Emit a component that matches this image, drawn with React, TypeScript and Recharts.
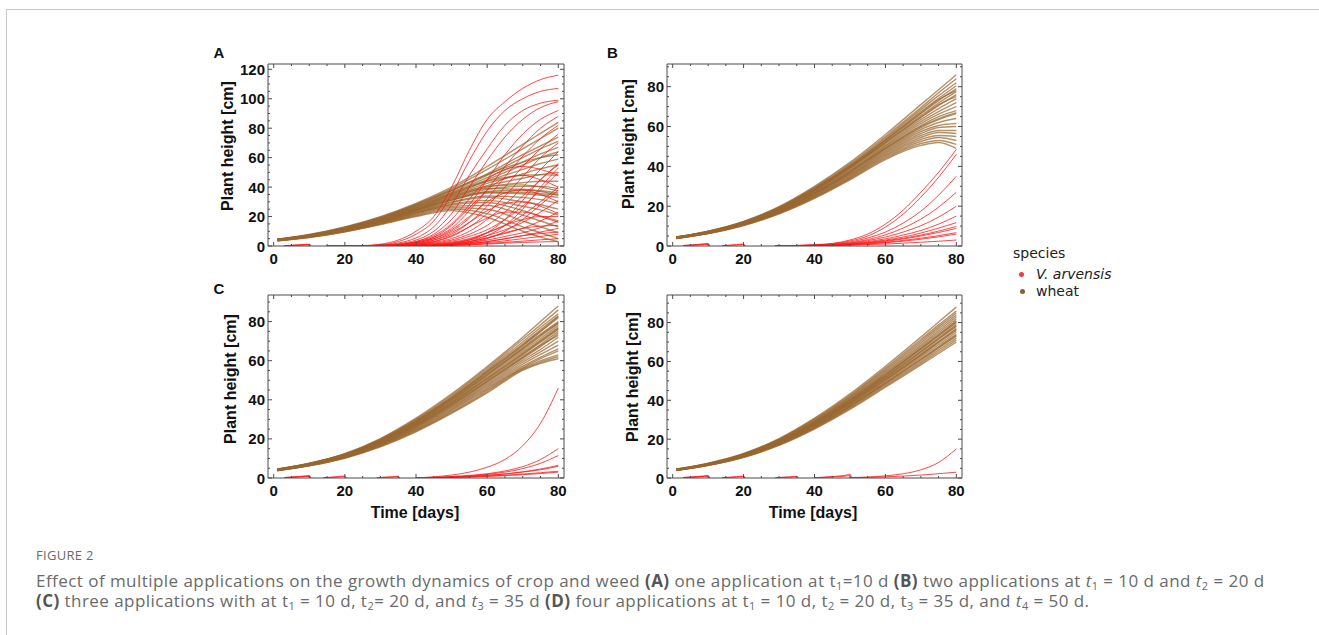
import React from 'react';
import { LineChart, Line, XAxis, YAxis } from 'recharts';

// sample days for the wheat curves
const days = [1, 10, 20, 30, 40, 50, 60, 70, 75, 80];

const wheatA = [
  [4.6, 7.8, 13, 20, 29, 40, 54, 69, 76.5, 84],
  [4.5, 7.6, 12.7, 19.6, 28.5, 39, 52, 66, 73, 80],
  [4.4, 7.5, 12.5, 19.2, 28, 38, 49, 62, 68, 74],
  [4.4, 7.4, 12.3, 19, 27.5, 37.5, 48, 60, 66, 71],
  [4.3, 7.3, 12.1, 18.6, 27, 36.5, 46.5, 57, 62.5, 67],
  [4.3, 7.2, 12, 18.4, 26.5, 36, 45, 55, 60, 64],
  [4.2, 7.1, 11.8, 18.1, 26, 35, 44, 52, 56, 59],
  [4.2, 7, 11.6, 17.8, 25.5, 34.5, 42.5, 49, 52.5, 55],
  [4.1, 6.9, 11.4, 17.5, 25, 33.5, 41, 46, 48.5, 50],
  [4.1, 6.8, 11.3, 17.3, 24.8, 33, 40, 43, 44, 44],
  [4, 6.7, 11.1, 17, 24.3, 32, 38.5, 40.5, 40.5, 39],
  [4, 6.6, 10.9, 16.7, 24, 31.5, 37, 38, 37.5, 36],
  [3.9, 6.5, 10.8, 16.5, 23.5, 31, 36, 35.5, 34.5, 33],
  [3.9, 6.5, 10.6, 16.2, 23, 30, 34, 33, 31.5, 29],
  [3.8, 6.4, 10.5, 16, 22.7, 29.5, 33, 30, 28, 25],
  [3.8, 6.3, 10.3, 15.7, 22.3, 28.5, 31, 27, 24.5, 21],
  [3.7, 6.2, 10.2, 15.4, 22, 28, 29.5, 24, 20.5, 17],
  [3.7, 6.1, 10, 15.2, 21.5, 27, 27.5, 21, 17, 13],
  [3.6, 6, 9.9, 15, 21, 26, 25, 17, 13, 9],
  [3.6, 5.9, 9.7, 14.7, 20.5, 25, 22, 13, 9, 5],
  [3.5, 5.8, 9.6, 14.5, 20, 24, 19.5, 10, 6, 3],
  [4.4, 7.4, 12.4, 19, 27.8, 38, 48.5, 57, 60, 62],
  [4.2, 7.1, 11.9, 18.2, 26.3, 35.5, 44, 48, 48.5, 48],
  [4, 6.8, 11.2, 17.1, 24.6, 32.5, 39, 38.5, 37, 34.5],
  [4.1, 6.9, 11.5, 17.6, 25.3, 34, 40.5, 41.5, 40, 37.5],
  [3.9, 6.6, 10.8, 16.6, 23.8, 31.2, 36.5, 36.5, 35.5, 35],
];

const wheatB = [
  [4.6, 7.5, 12.4, 19.8, 30, 42, 56, 71, 78.5, 86],
  [4.5, 7.4, 12.2, 19.5, 29.5, 41.3, 55, 69.5, 77, 84],
  [4.5, 7.3, 12.1, 19.3, 29.2, 40.8, 54.3, 68.5, 75.5, 82],
  [4.4, 7.2, 12, 19.1, 28.9, 40.3, 53.6, 67.5, 74.2, 80.5],
  [4.4, 7.2, 11.9, 18.9, 28.6, 40, 53, 66.5, 73, 79],
  [4.3, 7.1, 11.8, 18.8, 28.3, 39.6, 52.4, 65.5, 71.8, 77.5],
  [4.3, 7, 11.7, 18.6, 28, 39.2, 51.8, 64.5, 70.5, 76],
  [4.2, 7, 11.6, 18.4, 27.7, 38.8, 51.2, 63.5, 69, 74],
  [4.2, 6.9, 11.5, 18.2, 27.4, 38.3, 50.5, 62.5, 67.5, 72],
  [4.2, 6.9, 11.4, 18, 27.1, 37.9, 50, 61.5, 66.2, 70],
  [4.1, 6.8, 11.3, 17.9, 26.8, 37.5, 49.4, 60.5, 65, 68],
  [4.1, 6.7, 11.2, 17.7, 26.5, 37, 48.8, 59.5, 63.5, 66.5],
  [4.1, 6.7, 11.1, 17.5, 26.2, 36.6, 48.2, 58.5, 62, 64],
  [4, 6.6, 11, 17.4, 26, 36.2, 47.6, 57.5, 60.5, 61.5],
  [4, 6.6, 10.9, 17.2, 25.7, 35.8, 47, 56.5, 59.5, 60],
  [4, 6.5, 10.8, 17, 25.4, 35.4, 46.4, 55.5, 58, 58],
  [3.9, 6.5, 10.7, 16.8, 25.1, 35, 45.8, 54.5, 57, 56.5],
  [3.9, 6.4, 10.6, 16.7, 24.8, 34.5, 45.2, 53.5, 55.5, 55],
  [3.8, 6.4, 10.5, 16.5, 24.5, 34.1, 44.6, 52.5, 54.5, 53],
  [3.8, 6.3, 10.4, 16.3, 24.2, 33.7, 44, 51.5, 53, 51],
  [3.7, 6.2, 10.3, 16.1, 23.9, 33.2, 43.4, 50.5, 52, 49],
  [4.4, 7.2, 11.9, 19, 28.7, 40.1, 53.2, 66.8, 73.5, 78],
  [4.3, 7.1, 11.7, 18.7, 28.1, 39.4, 52, 64.8, 71, 75],
  [4.1, 6.8, 11.2, 17.8, 26.6, 37.2, 49, 60, 64, 67],
];

const wheatC = [
  [4.6, 7.6, 12.5, 20.2, 30.6, 43, 57, 72, 80, 88],
  [4.5, 7.5, 12.3, 19.9, 30.1, 42.3, 56.2, 70.8, 78.3, 86],
  [4.5, 7.4, 12.2, 19.6, 29.7, 41.7, 55.4, 69.6, 77, 84],
  [4.4, 7.3, 12.1, 19.4, 29.3, 41.2, 54.7, 68.5, 75.8, 83],
  [4.4, 7.3, 12, 19.2, 29, 40.7, 54, 67.6, 74.8, 82],
  [4.3, 7.2, 11.9, 19, 28.6, 40.2, 53.3, 66.7, 73.6, 80],
  [4.3, 7.1, 11.7, 18.8, 28.3, 39.7, 52.6, 65.8, 72.5, 79],
  [4.2, 7, 11.6, 18.6, 27.9, 39.2, 51.9, 64.9, 71.5, 78],
  [4.2, 7, 11.5, 18.4, 27.6, 38.7, 51.2, 64, 70.5, 77],
  [4.2, 6.9, 11.4, 18.2, 27.2, 38.2, 50.5, 63, 69.5, 76],
  [4.1, 6.8, 11.3, 18, 26.9, 37.7, 49.8, 62.1, 68.3, 75],
  [4.1, 6.8, 11.1, 17.7, 26.5, 37.2, 49.1, 61.2, 67.2, 74],
  [4.1, 6.7, 11, 17.5, 26.2, 36.7, 48.4, 60.2, 65.8, 72],
  [4, 6.6, 10.9, 17.3, 25.8, 36.2, 47.7, 59.2, 64.5, 70],
  [4, 6.6, 10.8, 17.1, 25.5, 35.7, 47, 58.2, 63.2, 68],
  [3.9, 6.5, 10.6, 16.8, 25.1, 35.1, 46.3, 57.2, 61.8, 66],
  [3.9, 6.4, 10.5, 16.6, 24.7, 34.6, 45.6, 56.5, 61, 65],
  [3.8, 6.4, 10.4, 16.4, 24.3, 34, 44.9, 56, 60, 63],
  [3.8, 6.3, 10.3, 16.2, 24, 33.5, 44.2, 55.5, 59.2, 62],
  [3.7, 6.2, 10.1, 15.9, 23.6, 33, 43.5, 55, 58.6, 61],
  [4.4, 7.3, 12, 19.3, 29.1, 40.9, 54.3, 68, 75.2, 82.5],
  [4.2, 7, 11.5, 18.3, 27.4, 38.5, 50.9, 63.5, 70, 76.5],
  [4.3, 7.1, 11.8, 18.9, 28.4, 39.9, 52.9, 66.2, 73, 79.5],
  [4.1, 6.8, 11.2, 17.8, 26.7, 37.4, 49.4, 61.6, 67.8, 73],
];

const wheatD = [
  [4.6, 7.6, 12.6, 20.3, 30.8, 43.3, 57.5, 72.5, 80.3, 88],
  [4.5, 7.5, 12.4, 20, 30.3, 42.6, 56.6, 71.3, 78.8, 86],
  [4.5, 7.4, 12.3, 19.8, 30, 42.1, 55.9, 70.4, 77.8, 85],
  [4.4, 7.4, 12.2, 19.6, 29.6, 41.6, 55.2, 69.5, 76.8, 84],
  [4.4, 7.3, 12.1, 19.4, 29.3, 41.1, 54.5, 68.6, 75.8, 83],
  [4.4, 7.2, 12, 19.2, 29, 40.7, 53.9, 67.8, 74.9, 82],
  [4.3, 7.2, 11.9, 19, 28.7, 40.2, 53.3, 67, 74, 81],
  [4.3, 7.1, 11.8, 18.8, 28.4, 39.8, 52.7, 66.2, 73.1, 80],
  [4.2, 7, 11.7, 18.6, 28.1, 39.4, 52.1, 65.4, 72.2, 79],
  [4.2, 7, 11.5, 18.4, 27.8, 38.9, 51.5, 64.6, 71.3, 78],
  [4.2, 6.9, 11.4, 18.2, 27.5, 38.5, 50.9, 63.8, 70.4, 77],
  [4.1, 6.8, 11.3, 18, 27.1, 38, 50.3, 63, 69.5, 76],
  [4.1, 6.8, 11.2, 17.8, 26.8, 37.6, 49.7, 62.2, 68.6, 75],
  [4, 6.7, 11.1, 17.6, 26.5, 37.1, 49.1, 61.4, 67.7, 74],
  [4, 6.6, 11, 17.4, 26.2, 36.7, 48.5, 60.6, 66.8, 73],
  [3.9, 6.6, 10.8, 17.2, 25.8, 36.2, 47.9, 59.8, 65.9, 72],
  [3.9, 6.5, 10.7, 17, 25.5, 35.8, 47.3, 59, 65, 71],
  [3.8, 6.4, 10.6, 16.8, 25.2, 35.3, 46.7, 58.2, 64.1, 70],
  [4.3, 7.1, 11.8, 18.9, 28.5, 40, 53, 66.6, 73.5, 80.5],
  [4.1, 6.9, 11.3, 18.1, 27.3, 38.3, 50.6, 63.4, 70, 76.5],
  [4.2, 7, 11.6, 18.5, 27.9, 39.1, 51.8, 65, 71.8, 78.5],
  [4, 6.7, 11, 17.5, 26.3, 36.9, 48.8, 61, 67.2, 73.5],
];

// V. arvensis, one application (A)
const redDaysA = [15, 25, 30, 35, 40, 45, 50, 55, 60, 65, 70, 75, 80];
const redA = [
  [0, 0.3, 1.2, 4, 10, 20, 40, 65, 86, 98, 107, 113, 116],
  [0, 0.2, 0.8, 3, 8, 17, 35, 58, 78, 92, 100, 105, 107],
  [0, 0.2, 0.6, 2, 5.5, 13, 28, 48, 66, 82, 92, 97, 99],
  [0, 0.1, 0.4, 1.5, 4, 10, 22, 40, 58, 74, 86, 94, 98],
  [0, 0.1, 0.3, 1, 3, 7, 15, 28, 45, 62, 76, 86, 92],
  [0, 0.1, 0.3, 1, 2.5, 6, 12, 24, 38, 54, 68, 80, 88],
  [0, 0.1, 0.2, 0.8, 2, 5, 10, 19, 32, 47, 61, 73, 82],
  [0, 0, 0.2, 0.6, 1.5, 4, 8, 16, 27, 40, 54, 66, 76],
  [0, 0, 0.1, 0.5, 1.2, 3, 6.5, 13, 22, 34, 47, 60, 70],
  [0, 0, 0.1, 0.4, 1, 2.5, 5, 10, 18, 28, 40, 52, 64],
  [0, 0, 0.1, 0.3, 0.8, 2, 4, 8, 14, 23, 34, 45, 56],
  [0, 0, 0.1, 0.3, 0.7, 1.6, 3.2, 6.5, 11, 18, 27, 38, 50],
  [0, 0, 0, 0.2, 0.5, 1.3, 2.6, 5, 9, 14, 21, 30, 40],
  [0, 0, 0, 0.2, 0.4, 1, 2, 4, 7, 11, 16, 23, 31],
  [0, 0, 0, 0.1, 0.3, 0.8, 1.6, 3, 5.5, 8.5, 12, 17, 23],
  [0, 0, 0, 0.1, 0.3, 0.6, 1.2, 2.4, 4, 6.5, 9, 12.5, 17],
  [0, 0, 0, 0.1, 0.2, 0.5, 1, 1.8, 3, 4.8, 7, 9.5, 12],
  [0, 0, 0, 0, 0.2, 0.4, 0.8, 1.4, 2.3, 3.5, 5, 6.5, 8],
  [0, 0, 0, 0, 0.1, 0.3, 0.6, 1, 1.7, 2.5, 3.3, 4.2, 5],
  [0, 0.1, 0.3, 1, 3, 8, 18, 32, 45, 52, 54, 52, 48],
  [0, 0.1, 0.2, 0.8, 2.5, 6, 14, 26, 38, 46, 48, 45, 40],
  [0, 0, 0.2, 0.6, 2, 5, 11, 20, 30, 36, 38, 35, 30],
  [0, 0, 0.1, 0.5, 1.5, 4, 9, 16, 24, 29, 30, 27, 22],
  [0, 0, 0.1, 0.4, 1.2, 3, 7, 13, 19, 23, 23, 20, 16],
  [0, 0, 0, 0.1, 0.2, 0.6, 1.5, 4, 9, 18, 31, 45, 55],
  [0, 0, 0, 0, 0.2, 0.5, 1.2, 3, 7, 14, 25, 40, 53],
  [0, 0, 0, 0, 0.1, 0.3, 0.8, 2, 5, 10, 18, 28, 38],
  [0, 0, 0, 0.1, 0.3, 0.8, 2, 4.5, 9, 14, 18, 20, 20],
  [0, 0, 0, 0, 0.2, 0.5, 1.2, 2.8, 5.5, 9, 12, 13.5, 14],
  [0, 0, 0, 0, 0.1, 0.3, 0.7, 1.5, 3, 5, 7, 8.5, 9.5],
  [0, 0, 0, 0, 0.1, 0.2, 0.4, 0.8, 1.3, 1.9, 2.4, 2.8, 3],
];

// V. arvensis after the last application in B, C, D
const redDaysB = [29, 40, 50, 55, 60, 65, 70, 75, 80];
const redB = [
  [0.1, 0.6, 3, 6, 11, 18, 27, 37, 48.5],
  [0.1, 0.5, 2.5, 5, 9.5, 16, 24.5, 34.5, 46],
  [0.1, 0.4, 2, 4, 7, 11.5, 17.5, 25.5, 35],
  [0.1, 0.4, 1.6, 3.2, 5.6, 9, 13.5, 19.5, 27],
  [0.1, 0.3, 1.4, 2.7, 4.5, 7, 10.2, 14.5, 20],
  [0, 0.3, 1.2, 2.2, 3.6, 5.5, 7.8, 11, 15],
  [0, 0.2, 1, 1.8, 3, 4.5, 6.5, 9, 11.7],
  [0, 0.2, 0.9, 1.6, 2.6, 3.9, 5.5, 7.5, 9.8],
  [0, 0.2, 0.8, 1.4, 2.3, 3.5, 5, 6.8, 8.8],
  [0, 0.2, 0.7, 1.2, 1.9, 2.8, 3.9, 5.2, 6.7],
  [0, 0.1, 0.6, 1, 1.6, 2.4, 3.4, 4.6, 6],
  [0, 0.1, 0.4, 0.7, 1, 1.4, 1.9, 2.4, 3],
];

const redDaysC = [40, 45, 50, 55, 60, 65, 70, 75, 80];
const redC = [
  [0.1, 0.6, 1.5, 3, 5.5, 9.5, 16.5, 28, 46],
  [0.1, 0.3, 0.7, 1.3, 2.2, 3.6, 5.8, 9.5, 15],
  [0.1, 0.3, 0.6, 1.1, 1.9, 3, 4.8, 7.5, 11.5],
  [0, 0.2, 0.5, 0.9, 1.4, 2.1, 3.2, 4.6, 6.5],
  [0, 0.2, 0.4, 0.8, 1.3, 2, 3, 4.2, 6],
  [0, 0.1, 0.3, 0.6, 1, 1.4, 2, 2.7, 3.5],
  [0, 0.1, 0.3, 0.5, 0.8, 1.2, 1.7, 2.3, 3],
];

const redDaysD = [50, 55, 60, 65, 70, 75, 80];
const redD = [
  [0.2, 0.5, 1.1, 2.2, 4.2, 8, 15],
  [0.1, 0.3, 0.6, 1, 1.5, 2.2, 3],
];

// weeds killed at each spraying date (small bumps on the axis)
const bump10Days = [3, 5, 7, 9, 10, 10.4];
const bump10 = [
  [0.3, 0.5, 0.8, 1.1, 1.3, 0],
  [0.2, 0.4, 0.6, 0.9, 1, 0],
  [0.1, 0.3, 0.5, 0.7, 0.8, 0],
];
const bump20Days = [14, 16, 18, 20, 20.4];
const bump20 = [
  [0.2, 0.4, 0.7, 1, 0],
  [0.1, 0.3, 0.5, 0.7, 0],
];
const bump35Days = [29, 31, 33, 35, 35.4];
const bump35 = [
  [0.2, 0.4, 0.6, 0.9, 0],
  [0.1, 0.3, 0.4, 0.6, 0],
];
const bump50Days = [40, 43, 46, 49, 50, 50.4];
const bump50 = [
  [0.2, 0.5, 0.9, 1.5, 2, 0],
  [0.1, 0.3, 0.6, 1, 1.3, 0],
];

const xTicks = [0, 5, 10, 15, 20, 25, 30, 35, 40, 45, 50, 55, 60, 65, 70, 75, 80];
const xMajor = [0, 20, 40, 60, 80];
const yTicksA = [0, 5, 10, 15, 20, 25, 30, 35, 40, 45, 50, 55, 60, 65, 70, 75, 80, 85, 90, 95, 100, 105, 110, 115, 120];
const yMajorA = [0, 20, 40, 60, 80, 100, 120];
const yTicks = [0, 5, 10, 15, 20, 25, 30, 35, 40, 45, 50, 55, 60, 65, 70, 75, 80, 85, 90];
const yMajor = [0, 20, 40, 60, 80];

const WHEAT = '#99662f';
const WEED = '#ff1a1a';
const FRAME = '#4a4a4a';
const BOLD_FONT = 'Arial, "Liberation Sans", Helvetica, sans-serif';
const tickFont = { fontFamily: BOLD_FONT, fontWeight: 700, fontSize: 15, fill: '#111' };

const toCurve = (xs: number[], ys: number[]) => xs.map((d, i) => ({ day: d, h: ys[i] }));

type Series = { xs: number[]; rows: number[][]; color: string; width: number; opacity: number };

const bottomTick = (major: number[]) => (p: any) => {
  const v = p.payload.value;
  const m = major.includes(v);
  return (
    <g>
      <line x1={p.x} x2={p.x} y1={p.y} y2={p.y - (m ? 4 : 2)} stroke={FRAME} />
      {m && (
        <text x={p.x} y={p.y + 12.5} textAnchor="middle" dominantBaseline="central" {...tickFont}>
          {v}
        </text>
      )}
    </g>
  );
};
const topTick = (major: number[]) => (p: any) => {
  const m = major.includes(p.payload.value);
  return <line x1={p.x} x2={p.x} y1={p.y} y2={p.y + (m ? 4 : 2)} stroke={FRAME} />;
};
const leftTick = (major: number[]) => (p: any) => {
  const v = p.payload.value;
  const m = major.includes(v);
  return (
    <g>
      <line x1={p.x} x2={p.x + (m ? 4 : 2)} y1={p.y} y2={p.y} stroke={FRAME} />
      {m && (
        <text x={p.x - 3} y={p.y} textAnchor="end" dominantBaseline="central" {...tickFont}>
          {v}
        </text>
      )}
    </g>
  );
};
const rightTick = (major: number[]) => (p: any) => {
  const m = major.includes(p.payload.value);
  return <line x1={p.x} x2={p.x - (m ? 4 : 2)} y1={p.y} y2={p.y} stroke={FRAME} />;
};

type PanelProps = {
  plotLeft: number;
  plotTop: number;
  plotW: number;
  plotH: number;
  yMax: number;
  yT: number[];
  yM: number[];
  series: Series[];
};

function Panel({ plotLeft, plotTop, plotW, plotH, yMax, yT, yM, series }: PanelProps) {
  const wl = 50;
  const wr = 6;
  const ht = 6;
  const hb = 30;
  const xDomain: [number, number] = [-1.6, 81.6];
  return (
    <div style={{ position: 'absolute', left: plotLeft - wl, top: plotTop - ht }}>
      <LineChart width={wl + plotW + wr} height={ht + plotH + hb} margin={{ top: 0, right: 0, bottom: 0, left: 0 }}>
        <XAxis
          dataKey="day"
          type="number"
          domain={xDomain}
          allowDataOverflow
          ticks={xTicks}
          interval={0}
          height={hb}
          tickSize={0}
          tickMargin={0}
          tickLine={false}
          axisLine={{ stroke: FRAME }}
          tick={bottomTick(xMajor)}
        />
        <XAxis
          xAxisId="top"
          orientation="top"
          dataKey="day"
          type="number"
          domain={xDomain}
          allowDataOverflow
          ticks={xTicks}
          interval={0}
          height={ht}
          tickSize={0}
          tickMargin={0}
          tickLine={false}
          axisLine={{ stroke: FRAME }}
          tick={topTick(xMajor)}
        />
        <YAxis
          type="number"
          domain={[0, yMax]}
          allowDataOverflow
          ticks={yT}
          interval={0}
          width={wl}
          tickSize={0}
          tickMargin={0}
          tickLine={false}
          axisLine={{ stroke: FRAME }}
          tick={leftTick(yM)}
        />
        <YAxis
          yAxisId="right"
          orientation="right"
          type="number"
          domain={[0, yMax]}
          allowDataOverflow
          ticks={yT}
          interval={0}
          width={wr}
          tickSize={0}
          tickMargin={0}
          tickLine={false}
          axisLine={{ stroke: FRAME }}
          tick={rightTick(yM)}
        />
        {series.map((s, si) =>
          s.rows.map((row, ri) => (
            <Line
              key={`${si}-${ri}`}
              data={toCurve(s.xs, row)}
              dataKey="h"
              type="monotone"
              dot={false}
              activeDot={false}
              stroke={s.color}
              strokeWidth={s.width}
              strokeOpacity={s.opacity}
              isAnimationActive={false}
            />
          )),
        )}
      </LineChart>
    </div>
  );
}

const wheatStyle = { color: WHEAT, width: 1.4, opacity: 0.72 };
const weedStyle = { color: WEED, width: 1, opacity: 0.8 };

const labelStyle: React.CSSProperties = {
  position: 'absolute',
  fontFamily: BOLD_FONT,
  fontWeight: 700,
  fontSize: 16,
  color: '#111',
  whiteSpace: 'nowrap',
  lineHeight: 1,
};

function YLabel({ cx, cy }: { cx: number; cy: number }) {
  return (
    <div style={{ ...labelStyle, left: cx, top: cy, transform: 'translate(-50%, -50%) rotate(-90deg)' }}>
      Plant height [cm]
    </div>
  );
}
function XLabel({ cx, cy }: { cx: number; cy: number }) {
  return <div style={{ ...labelStyle, left: cx, top: cy, transform: 'translate(-50%, -50%)' }}>Time [days]</div>;
}
function Letter({ cx, cy, t }: { cx: number; cy: number; t: string }) {
  return <div style={{ ...labelStyle, fontSize: 15, left: cx, top: cy, transform: 'translate(-50%, -50%)' }}>{t}</div>;
}

const capStyle: React.CSSProperties = {
  position: 'absolute',
  left: 36,
  fontFamily: '"Open Sans", Lato, sans-serif',
  fontSize: 17,
  letterSpacing: 0.45,
  color: '#6a6a6a',
  whiteSpace: 'nowrap',
  lineHeight: '18px',
};
const subStyle: React.CSSProperties = { fontSize: 11, verticalAlign: '-3px', lineHeight: 0 };
const T = ({ n, it }: { n: number; it?: boolean }) => (
  <span>
    {it ? <i>t</i> : 't'}
    <span style={subStyle}>{n}</span>
  </span>
);
const B = ({ c }: { c: string }) => <b style={{ color: '#555', fontWeight: 700 }}>{c}</b>;

export default function App() {
  return (
    <div style={{ position: 'absolute', left: 0, top: 0, width: 1319, height: 635, background: '#fff', overflow: 'hidden' }}>
      <div style={{ position: 'absolute', left: 6, top: 9, width: 1313, height: 626, borderTop: '1px solid #c8c8c8', borderLeft: '1px solid #c8c8c8' }} />

      <Panel
        plotLeft={268}
        plotTop={64}
        plotW={296}
        plotH={182}
        yMax={123.6}
        yT={yTicksA}
        yM={yMajorA}
        series={[
          { xs: days, rows: wheatA, ...wheatStyle },
          { xs: bump10Days, rows: bump10, ...weedStyle },
          { xs: redDaysA, rows: redA, ...weedStyle },
        ]}
      />
      <Panel
        plotLeft={667}
        plotTop={64}
        plotW={295}
        plotH={182}
        yMax={91.4}
        yT={yTicks}
        yM={yMajor}
        series={[
          { xs: days, rows: wheatB, ...wheatStyle },
          { xs: bump10Days, rows: bump10, ...weedStyle },
          { xs: bump20Days, rows: bump20, ...weedStyle },
          { xs: redDaysB, rows: redB, ...weedStyle },
        ]}
      />
      <Panel
        plotLeft={268}
        plotTop={295}
        plotW={296}
        plotH={183}
        yMax={93.6}
        yT={yTicks}
        yM={yMajor}
        series={[
          { xs: days, rows: wheatC, ...wheatStyle },
          { xs: bump10Days, rows: bump10, ...weedStyle },
          { xs: bump20Days, rows: bump20, ...weedStyle },
          { xs: bump35Days, rows: bump35, ...weedStyle },
          { xs: redDaysC, rows: redC, ...weedStyle },
        ]}
      />
      <Panel
        plotLeft={667}
        plotTop={295}
        plotW={295}
        plotH={183}
        yMax={94.2}
        yT={yTicks}
        yM={yMajor}
        series={[
          { xs: days, rows: wheatD, ...wheatStyle },
          { xs: bump10Days, rows: bump10, ...weedStyle },
          { xs: bump20Days, rows: bump20, ...weedStyle },
          { xs: bump35Days, rows: bump35, ...weedStyle },
          { xs: bump50Days, rows: bump50, ...weedStyle },
          { xs: redDaysD, rows: redD, ...weedStyle },
        ]}
      />

      <Letter cx={219} cy={52} t="A" />
      <Letter cx={612.5} cy={52} t="B" />
      <Letter cx={219} cy={288} t="C" />
      <Letter cx={611} cy={288} t="D" />

      <YLabel cx={227.5} cy={145.5} />
      <YLabel cx={628.5} cy={144} />
      <YLabel cx={231} cy={379} />
      <YLabel cx={632.5} cy={376.5} />
      <XLabel cx={415} cy={513} />
      <XLabel cx={813} cy={513} />

      <div style={{ position: 'absolute', left: 1013, top: 244, fontFamily: '"DejaVu Sans", Verdana, sans-serif', fontSize: 14, color: '#222', lineHeight: '18px' }}>
        species
      </div>
      <div style={{ position: 'absolute', left: 1019, top: 271.5, width: 5, height: 5, borderRadius: 3, background: '#f03c3c' }} />
      <div style={{ position: 'absolute', left: 1036, top: 265, fontFamily: '"DejaVu Sans", Verdana, sans-serif', fontSize: 14, fontStyle: 'italic', color: '#222', lineHeight: '18px' }}>
        V. arvensis
      </div>
      <div style={{ position: 'absolute', left: 1019.5, top: 288.5, width: 5, height: 5, borderRadius: 3, background: '#8c5e32' }} />
      <div style={{ position: 'absolute', left: 1036, top: 282, fontFamily: '"DejaVu Sans", Verdana, sans-serif', fontSize: 14, color: '#222', lineHeight: '18px' }}>
        wheat
      </div>

      <div style={{ ...capStyle, top: 546, fontSize: 13, letterSpacing: 0.3 }}>FIGURE 2</div>
      <div style={{ ...capStyle, top: 572 }}>
        Effect of multiple applications on the growth dynamics of crop and weed <B c="(A)" /> one application at <T n={1} />=10 d{' '}
        <B c="(B)" /> two applications at <T n={1} it /> = 10 d and <T n={2} it /> = 20 d
      </div>
      <div style={{ ...capStyle, top: 592 }}>
        <B c="(C)" /> three applications with at <T n={1} /> = 10 d, <T n={2} />= 20 d, and <T n={3} it /> = 35 d <B c="(D)" /> four
        applications at <T n={1} /> = 10 d, <T n={2} /> = 20 d, <T n={3} /> = 35 d, and <T n={4} it /> = 50 d.
      </div>
    </div>
  );
}
